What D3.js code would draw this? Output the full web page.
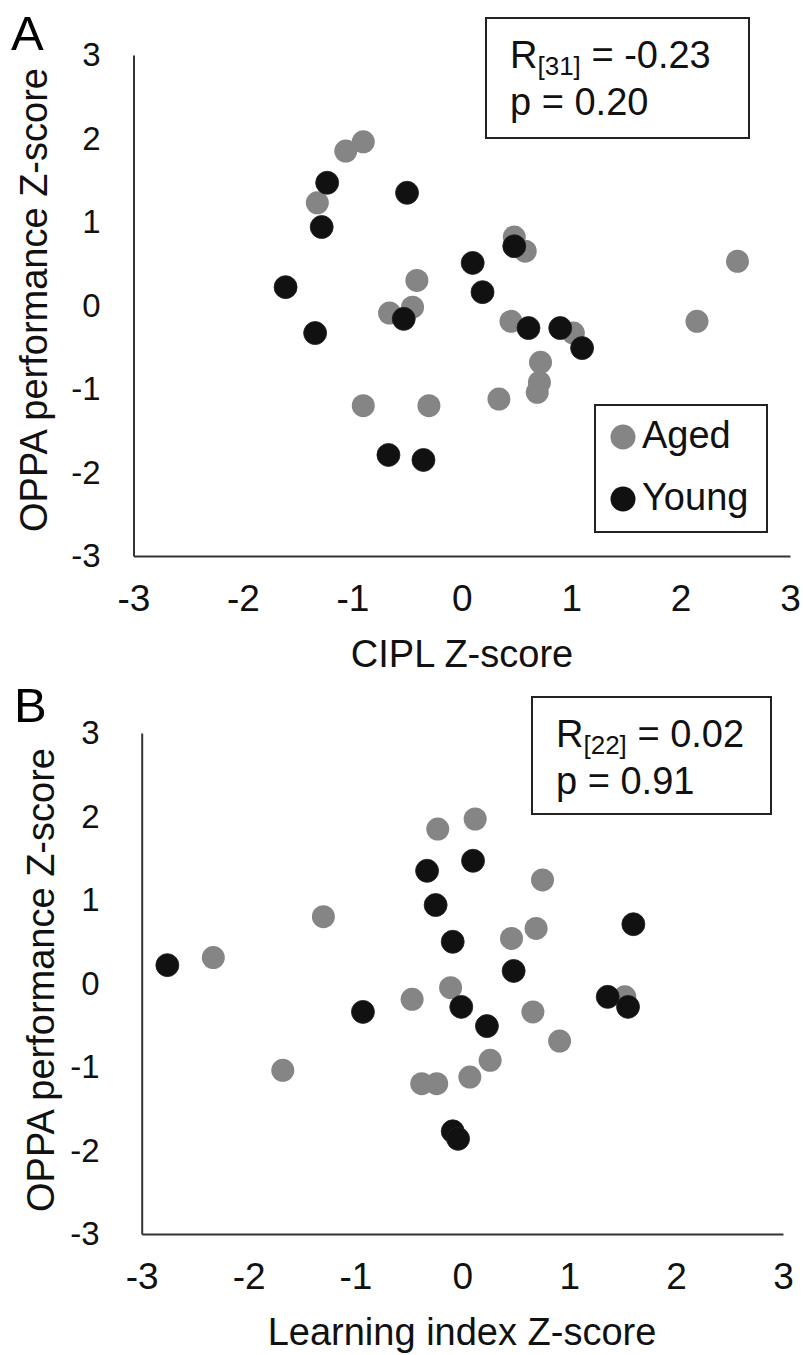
<!DOCTYPE html>
<html>
<head>
<meta charset="utf-8">
<script src="https://cdn.jsdelivr.net/npm/d3@7"></script>
<style>
  body { margin: 0; background: #fff; }
  svg { display: block; font-family: "Liberation Sans", Arial, sans-serif; }
</style>
</head>
<body>
<svg id="chart" width="803" height="1355"></svg>
<script>
// ---------- data ----------
const tickValues = [-3, -2, -1, 0, 1, 2, 3];
const seriesNames = ["Aged", "Young"];

// Panel A: CIPL Z-score (x) vs OPPA performance Z-score (y)
const agedA = [
  [-0.90, 1.96], [-1.06, 1.85], [-1.32, 1.23], [-0.41, 0.30], [-0.66, -0.09],
  [-0.45, -0.02], [0.48, 0.82], [0.58, 0.65], [0.45, -0.19], [0.72, -0.68],
  [0.71, -0.92], [0.69, -1.04], [0.34, -1.12], [-0.90, -1.20], [-0.30, -1.20],
  [2.52, 0.53], [2.15, -0.19], [1.02, -0.33]
];
const youngA = [
  [-1.23, 1.47], [-1.28, 0.94], [-0.50, 1.35], [-1.61, 0.22], [-1.34, -0.33],
  [-0.53, -0.16], [0.48, 0.71], [0.10, 0.51], [0.19, 0.16], [0.61, -0.27],
  [0.90, -0.27], [1.10, -0.51], [-0.67, -1.79], [-0.35, -1.85]
];

// Panel B: Learning index Z-score (x) vs OPPA performance Z-score (y)
const agedB = [
  [-2.33, 0.31], [-1.30, 0.80], [-1.68, -1.04], [-0.47, -0.19], [-0.38, -1.20],
  [-0.24, -1.20], [-0.23, 1.85], [0.12, 1.97], [0.75, 1.24], [0.69, 0.66],
  [0.46, 0.54], [-0.11, -0.05], [0.66, -0.34], [0.91, -0.69], [0.26, -0.92],
  [0.07, -1.12], [1.52, -0.16]
];
const youngB = [
  [-2.76, 0.22], [-0.93, -0.34], [-0.33, 1.35], [0.10, 1.47], [-0.25, 0.94],
  [-0.09, 0.50], [0.48, 0.15], [-0.01, -0.28], [0.23, -0.51], [1.60, 0.71],
  [1.36, -0.16], [1.55, -0.28], [-0.09, -1.77], [-0.04, -1.86]
];

const statsA = { n: "31", r: "-0.23", p: "0.20" };
const statsB = { n: "22", r: "0.02", p: "0.91" };

// ---------- styles ----------
const colAged = "#858585";
const colYoung = "#111111";
const axisColor = "#333333";
const R = 11.5;

const svg = d3.select("#chart");
svg.append("rect").attr("width", 803).attr("height", 1355).attr("fill", "#fff");

function drawPanel(cfg) {
  const g = svg.append("g");
  const x = d3.scaleLinear().domain([-3, 3]).range([cfg.x0, cfg.x1]);
  const y = d3.scaleLinear().domain([-3, 3]).range([cfg.yBot, cfg.yTop]);

  // x axis
  const gx = g.append("g")
    .attr("transform", `translate(0,${cfg.yBot})`)
    .call(d3.axisBottom(x).tickValues(tickValues).tickSize(0).tickFormat(d => String(d)));
  gx.attr("font-size", 37).attr("font-family", null);
  gx.select(".domain").attr("stroke", axisColor).attr("stroke-width", 2);
  gx.selectAll(".tick text").attr("y", 55).attr("dy", 0).attr("fill", "#111");

  // y axis
  const gy = g.append("g")
    .attr("transform", `translate(${cfg.x0},0)`)
    .call(d3.axisLeft(y).tickValues(tickValues).tickSize(0).tickPadding(cfg.yPad).tickFormat(d => String(d)));
  gy.attr("font-size", 33).attr("font-family", null);
  gy.select(".domain").attr("stroke", axisColor).attr("stroke-width", 2);
  gy.selectAll(".tick text").attr("fill", "#111");

  // axis titles
  g.append("text")
    .attr("x", 462).attr("y", cfg.xTitleY)
    .attr("text-anchor", "middle").attr("font-size", 38).attr("fill", "#111")
    .text(cfg.xTitle);
  g.append("text")
    .attr("transform", `translate(${cfg.yTitleX},${cfg.yTitleCY}) rotate(-90)`)
    .attr("text-anchor", "middle").attr("font-size", 38).attr("fill", "#111")
    .text("OPPA performance Z-score");

  // panel letter
  g.append("text")
    .attr("x", cfg.letterX).attr("y", cfg.letterY)
    .attr("font-size", 49).attr("fill", "#000")
    .text(cfg.letter);

  // points: aged first, young on top
  g.append("g").selectAll("circle").data(cfg.aged).join("circle")
    .attr("cx", d => x(d[0])).attr("cy", d => y(d[1])).attr("r", R)
    .attr("fill", colAged);
  g.append("g").selectAll("circle").data(cfg.young).join("circle")
    .attr("cx", d => x(d[0])).attr("cy", d => y(d[1])).attr("r", R)
    .attr("fill", colYoung).attr("stroke", "#222").attr("stroke-width", 0.8);

  // stats box
  const b = cfg.box;
  g.append("rect")
    .attr("x", b.x).attr("y", b.y).attr("width", b.w).attr("height", b.h)
    .attr("fill", "#fff").attr("stroke", "#222").attr("stroke-width", 2);
  const t1 = g.append("text").attr("x", b.x + 24).attr("y", b.y + 50)
    .attr("font-size", 38).attr("fill", "#111");
  t1.append("tspan").text("R");
  t1.append("tspan").attr("font-size", 26).attr("dy", 7).text(`[${cfg.stats.n}]`);
  t1.append("tspan").attr("dy", -7).text(` = ${cfg.stats.r}`);
  g.append("text").attr("x", b.x + 24).attr("y", b.y + 97)
    .attr("font-size", 38).attr("fill", "#111")
    .text(`p = ${cfg.stats.p}`);

  return g;
}

drawPanel({
  letter: "A", letterX: 11, letterY: 50,
  x0: 133.5, x1: 790, yTop: 55, yBot: 556, yPad: 33,
  xTitle: "CIPL Z-score", xTitleY: 667,
  yTitleX: 47, yTitleCY: 300,
  aged: agedA, young: youngA,
  box: { x: 486, y: 18, w: 263, h: 120 },
  stats: statsA
});

const gB = drawPanel({
  letter: "B", letterX: 14, letterY: 722,
  x0: 141.7, x1: 783, yTop: 733, yBot: 1234, yPad: 42,
  xTitle: "Learning index Z-score", xTitleY: 1345,
  yTitleX: 54, yTitleCY: 980,
  aged: agedB, young: youngB,
  box: { x: 532, y: 697, w: 239, h: 117 },
  stats: statsB
});

// legend (panel A)
const lg = svg.append("g");
lg.append("rect").attr("x", 595).attr("y", 405).attr("width", 172).attr("height", 127)
  .attr("fill", "#fff").attr("stroke", "#222").attr("stroke-width", 2);
const legendItems = lg.selectAll("g.item").data(seriesNames).join("g").attr("class", "item")
  .attr("transform", (d, i) => `translate(0,${i * 62})`);
legendItems.append("circle").attr("cx", 623).attr("cy", 437).attr("r", 12.5)
  .attr("fill", d => d === "Aged" ? colAged : colYoung);
legendItems.append("text").attr("x", 642).attr("y", 448)
  .attr("font-size", 38).attr("fill", "#111").text(d => d);
</script>
</body>
</html>
